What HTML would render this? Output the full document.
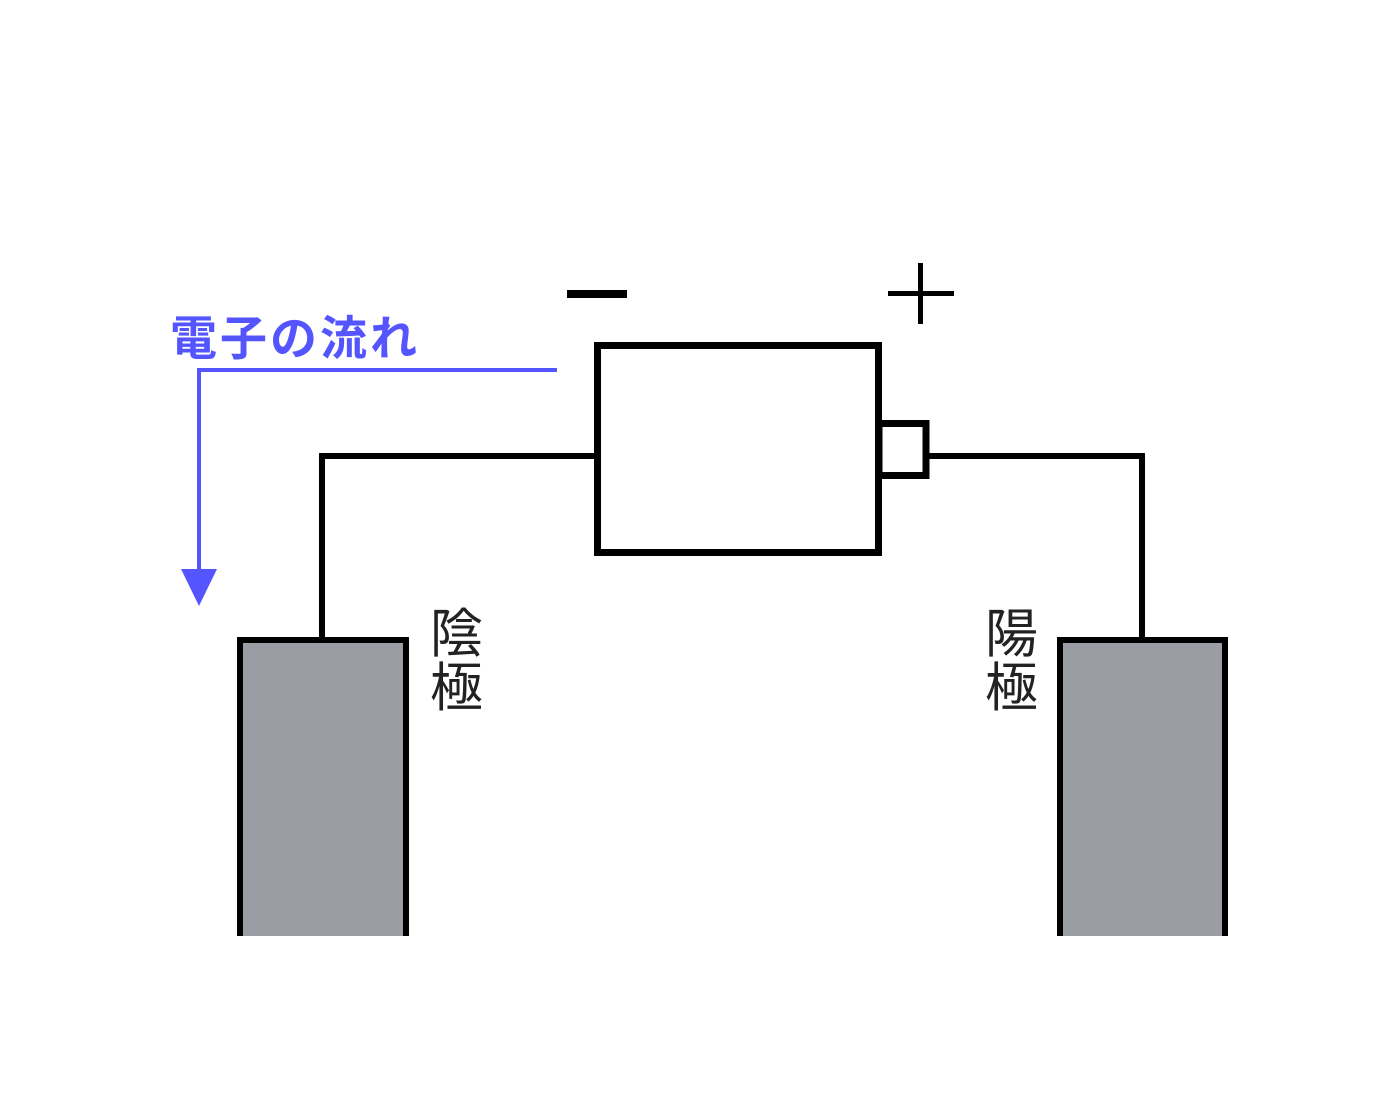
<!DOCTYPE html>
<html><head><meta charset="utf-8"><style>
html,body{margin:0;padding:0;background:#fff;width:1400px;height:1120px;overflow:hidden}
svg{display:block}
</style></head><body>
<svg width="1400" height="1120" viewBox="0 0 1400 1120">
<rect x="0" y="0" width="1400" height="1120" fill="#fff"/>
<polyline points="597,456 322,456 322,640" fill="none" stroke="#000" stroke-width="6"/>
<polyline points="926,456 1142,456 1142,640" fill="none" stroke="#000" stroke-width="6"/>
<rect x="597.5" y="345.5" width="281" height="207" fill="#fff" stroke="#000" stroke-width="7"/>
<rect x="879" y="423.5" width="47" height="52" fill="#fff" stroke="#000" stroke-width="7"/>
<path d="M240,936 V640 H406 V936" fill="#9a9da4" stroke="#000" stroke-width="6"/>
<path d="M1060,936 V640 H1225 V936" fill="#9a9da4" stroke="#000" stroke-width="6"/>
<rect x="567" y="290" width="60" height="8" fill="#000"/>
<rect x="888" y="291" width="66" height="5" fill="#000"/>
<rect x="918" y="263" width="5" height="61" fill="#000"/>
<polyline points="557,370 199,370 199,585" fill="none" stroke="#5555ff" stroke-width="4"/>
<polygon points="181,569 217,569 199,606" fill="#5555ff"/>
<text x="170" y="355" font-family="'Liberation Sans','Noto Sans CJK JP',sans-serif" font-size="47" font-weight="bold" letter-spacing="3" fill="#5555ff">電子の流れ</text>
<text x="430" y="652" font-family="'Liberation Sans','Noto Sans CJK JP',sans-serif" font-size="53" fill="#222">陰</text>
<text x="430" y="706" font-family="'Liberation Sans','Noto Sans CJK JP',sans-serif" font-size="53" fill="#222">極</text>
<text x="985" y="652" font-family="'Liberation Sans','Noto Sans CJK JP',sans-serif" font-size="53" fill="#222">陽</text>
<text x="985" y="706" font-family="'Liberation Sans','Noto Sans CJK JP',sans-serif" font-size="53" fill="#222">極</text>
</svg>
</body></html>
